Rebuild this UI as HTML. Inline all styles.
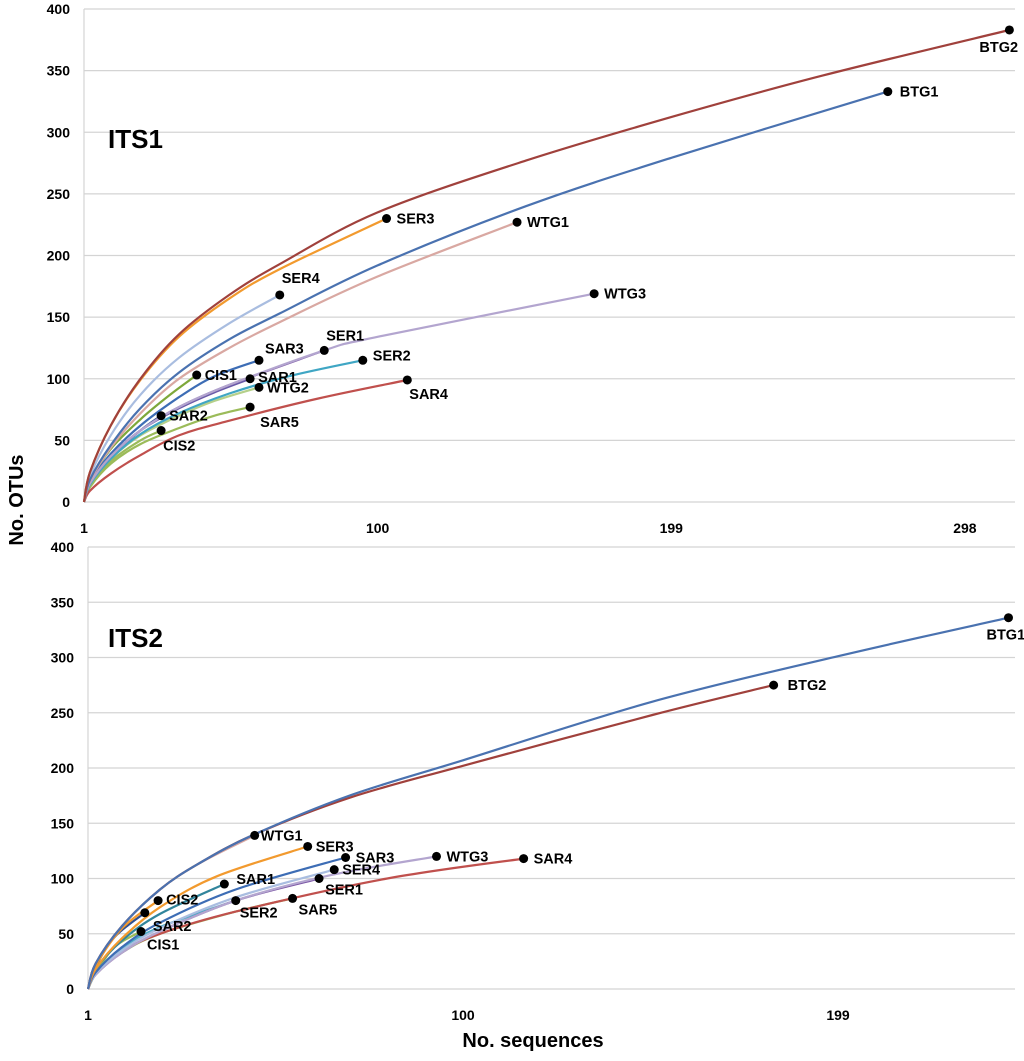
<!DOCTYPE html>
<html><head><meta charset="utf-8">
<style>
html,body{margin:0;padding:0;background:#fff;}
svg{display:block;font-family:"Liberation Sans",Arial,sans-serif;}
</style></head>
<body>
<svg id="chart" width="1024" height="1061" viewBox="0 0 1024 1061" xmlns="http://www.w3.org/2000/svg">
<text x="0" y="0" transform="translate(23,500) rotate(-90)" text-anchor="middle" font-size="20" font-weight="bold">No. OTUs</text>
<text x="533" y="1047" text-anchor="middle" font-size="20" font-weight="bold">No. sequences</text>
</svg>
<script>
// ---- data ----
const yTicks = [0, 50, 100, 150, 200, 250, 300, 350, 400];
const xTicksTop = [1, 100, 199, 298];
const xTicksBottom = [1, 100, 199];

const topNames = ["BTG2","SER3","BTG1","WTG1","SER4","WTG3","SER1","SAR3","SER2","SAR1","CIS1","WTG2","SAR4","SAR5","SAR2","CIS2"];
const topSeries = [
 [[1,0],[3,24],[10,62],[20,100],[33,136],[50,168],[67,193],[100,235],[150,277],[200,313],[250,346],[313,383]],
 [[1,0],[3,24],[10,62],[20,99],[33,134],[50,165],[67,189],[103,230]],
 [[1,0],[3,18],[10,46],[20,76],[33,105],[50,132],[67,153],[100,192],[150,240],[200,280],[272,333]],
 [[1,0],[3,17],[10,44],[20,72],[33,100],[50,125],[67,146],[100,183],[147,227]],
 [[1,0],[3,21],[10,54],[20,87],[33,117],[50,145],[67,168]],
 [[1,0],[3,15],[10,37],[20,58],[33,77],[50,95],[82,123],[100,134],[173,169]],
 [[1,0],[3,15],[10,37],[20,58],[33,77],[50,95],[82,123]],
 [[1,0],[3,16],[10,39],[20,62],[33,85],[45,102],[60,115]],
 [[1,0],[3,14],[10,35],[20,55],[33,72],[50,88],[70,102],[95,115]],
 [[1,0],[3,15],[10,37],[20,58],[33,76],[45,89],[57,100]],
 [[1,0],[3,17],[10,43],[20,67],[30,87],[39,103]],
 [[1,0],[3,14],[10,35],[20,54],[33,70],[45,82],[60,93]],
 [[1,0],[3,9],[10,23],[20,38],[33,54],[50,66],[80,84],[110,99]],
 [[1,0],[3,12],[10,31],[20,47],[33,60],[45,70],[57,77]],
 [[1,0],[3,15],[10,37],[20,58],[27,70]],
 [[1,0],[3,13],[10,33],[20,50],[27,58]]
];
const bottomNames = ["BTG1","BTG2","WTG1","SER3","SAR3","SER4","WTG3","SAR4","SER1","SAR1","CIS2","SAR2","SER2","SAR5","CIS1"];
const bottomSeries = [
 [[1,0],[3,23],[10,57],[20,90],[30,113],[45,140],[70,175],[100,207],[150,260],[200,302],[244,336]],
 [[1,0],[3,23],[10,57],[20,90],[30,113],[45,140],[70,173],[100,202],[150,248],[182,275]],
 [[1,0],[3,23],[10,57],[20,90],[30,113],[45,139]],
 [[1,0],[3,18],[10,46],[20,74],[35,102],[59,129]],
 [[1,0],[3,15],[10,38],[20,60],[40,90],[69,119]],
 [[1,0],[3,14],[10,35],[20,55],[40,83],[66,108]],
 [[1,0],[3,13],[10,33],[20,52],[40,80],[65,103],[93,120]],
 [[1,0],[3,14],[10,34],[20,50],[40,70],[80,100],[116,118]],
 [[1,0],[3,13],[10,33],[20,52],[40,80],[62,100]],
 [[1,0],[3,18],[10,44],[20,68],[37,95]],
 [[1,0],[3,21],[10,55],[19.5,80]],
 [[1,0],[3,20],[8,47],[16,69]],
 [[1,0],[3,15],[10,37],[20,56],[40,80]],
 [[1,0],[3,13],[10,33],[20,50],[40,70],[55,82]],
 [[1,0],[3,14],[8,38],[15,52]]
];

// ---- styles ----
const colorMap = {BTG2:"#a0413c",SER3:"#f29a2e",BTG1:"#4a72b0",WTG1:"#d9a8a2",SER4:"#a9bde0",WTG3:"#b3a5cf",SER1:"#7b56a5",SAR3:"#3d6db5",SER2:"#3fa6c4",SAR1:"#6a5aa8",CIS1:"#7ea83a",WTG2:"#b5d08a",SAR4:"#c0504d",SAR5:"#9bbb59",SAR2:"#2f4f8f",CIS2:"#9bbb59"};
const colorMapB = Object.assign({}, colorMap, {SAR1:"#31859c",CIS2:"#f29a2e",CIS1:"#9bbb59",SER2:"#4bacc6"});
const labOffTop = {BTG2:[-30,22],BTG1:[12,5],SER3:[10,5],WTG1:[10,5],WTG3:[10,5],SER4:[2,-12],SER1:[2,-10],SAR3:[6,-7],SER2:[10,0],SAR1:[8,3],CIS1:[8,5],WTG2:[8,5],SAR4:[2,19],SAR5:[10,20],SAR2:[8,5],CIS2:[2,20]};
const labOffBot = {BTG1:[-22,22],BTG2:[14,5],WTG1:[6,5],SER3:[8,5],SAR3:[10,5],SER4:[8,5],WTG3:[10,5],SAR4:[10,5],SER1:[6,16],SAR1:[12,0],CIS2:[8,4],SAR2:[8,18],SER2:[4,17],SAR5:[6,16],CIS1:[6,18]};

const svg = document.getElementById('chart');
const NS = "http://www.w3.org/2000/svg";
function mk(tag, attrs){const e=document.createElementNS(NS,tag);for(const k in attrs)e.setAttribute(k,attrs[k]);svg.appendChild(e);return e;}

function smoothPath(pts){
  let d="M"+pts[0][0].toFixed(1)+","+pts[0][1].toFixed(1);
  for(let i=0;i<pts.length-1;i++){
    const p0=pts[Math.max(0,i-1)],p1=pts[i],p2=pts[i+1],p3=pts[Math.min(pts.length-1,i+2)];
    const c1=[p1[0]+(p2[0]-p0[0])/6,p1[1]+(p2[1]-p0[1])/6];
    const c2=[p2[0]-(p3[0]-p1[0])/6,p2[1]-(p3[1]-p1[1])/6];
    d+=" C"+c1[0].toFixed(1)+","+c1[1].toFixed(1)+" "+c2[0].toFixed(1)+","+c2[1].toFixed(1)+" "+p2[0].toFixed(1)+","+p2[1].toFixed(1);
  }
  return d;
}

function panel(cfg){
  const xs = n => cfg.x0 + (n-1)*cfg.xk;
  const ys = v => cfg.y0 - v*cfg.yk;
  yTicks.forEach(t=>{
    const g=mk('line',{x1:cfg.x0,x2:1015,y1:ys(t),y2:ys(t),stroke:"#d4d4d4","stroke-width":1.2});
    
    
    const tl=mk('text',{x:cfg.x0-14,y:ys(t)+5,"text-anchor":"end","font-size":14,"font-weight":"bold"});
    tl.textContent=t;
    
    
  });
  const ax=mk('line',{x1:cfg.x0,x2:cfg.x0,y1:ys(400),y2:ys(0),stroke:"#d4d4d4","stroke-width":1.2});
  
  
  cfg.xt.forEach(t=>{
    const tl=mk('text',{x:xs(t),y:cfg.xLabY,"text-anchor":"middle","font-size":14,"font-weight":"bold"});
    tl.textContent=t;
    
    
  });
  const title=mk('text',{x:108,y:cfg.titleY,"font-size":26,"font-weight":"bold"});
  title.textContent=cfg.title;
  
  
  for(let i=cfg.series.length-1;i>=0;i--){
    const nm=cfg.names[i];
    const pts=cfg.series[i].map(p=>[xs(p[0]),ys(p[1])]);
    const p=mk('path',{d:smoothPath(pts),fill:"none",stroke:cfg.colors[nm],"stroke-width":2.2});
    
    
  }
  cfg.series.forEach((s,i)=>{
    const nm=cfg.names[i];
    const last=s[s.length-1];
    const cx=xs(last[0]), cy=ys(last[1]);
    const c=mk('circle',{cx:cx,cy:cy,r:4.5,fill:"#000"});
    
    
    const o=cfg.off[nm];
    const t=mk('text',{x:cx+o[0],y:cy+o[1],"font-size":14.5,"font-weight":"bold"});
    t.textContent=nm;
    
    
  });
}

panel({id:"its1",title:"ITS1",titleY:148,x0:84,xk:2.966,y0:502,yk:1.2325,xt:xTicksTop,xLabY:533,names:topNames,series:topSeries,colors:colorMap,off:labOffTop});
panel({id:"its2",title:"ITS2",titleY:647,x0:88,xk:3.788,y0:989,yk:1.105,xt:xTicksBottom,xLabY:1020,names:bottomNames,series:bottomSeries,colors:colorMapB,off:labOffBot});
</script>
</body></html>
